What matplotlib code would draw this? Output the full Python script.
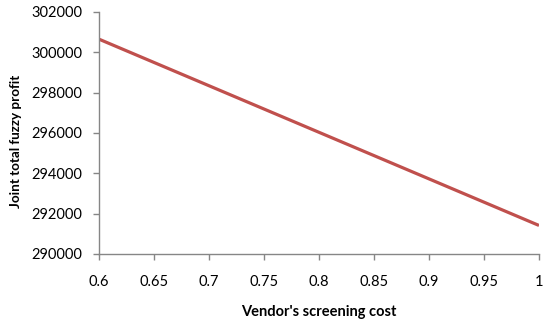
import matplotlib
matplotlib.use("Agg")
import matplotlib.pyplot as plt

cost = [0.6, 0.65, 0.7, 0.75, 0.8, 0.85, 0.9, 0.95, 1.0]
profit = [300650, 299495, 298340, 297185, 296030, 294875, 293720, 292565, 291410]
xticks = [0.6, 0.65, 0.7, 0.75, 0.8, 0.85, 0.9, 0.95, 1.0]
xticklabels = ["0.6", "0.65", "0.7", "0.75", "0.8", "0.85", "0.9", "0.95", "1"]
yticks = [290000, 292000, 294000, 296000, 298000, 300000, 302000]

plt.rcParams['font.family'] = ['Lato', 'DejaVu Sans']

fig = plt.figure(figsize=(5.5, 3.23), dpi=100)
ax = fig.add_axes([0.18, 0.214, 0.8, 0.749])
ax.plot(cost, profit, color="#C0504D", linewidth=2.3, solid_capstyle="butt")
ax.set_xlim(0.6, 1.0)
ax.set_ylim(290000, 302000)
ax.set_xticks(xticks)
ax.set_xticklabels(xticklabels)
ax.set_yticks(yticks)
ax.set_yticklabels([str(v) for v in yticks])
for s in ["top", "right"]:
    ax.spines[s].set_visible(False)
for s in ["left", "bottom"]:
    ax.spines[s].set_color("#868686")
    ax.spines[s].set_linewidth(1.0)
ax.tick_params(axis="both", colors="#868686", labelcolor="black", labelsize=10.5, length=4, width=1, direction="out")
ax.tick_params(axis="x", pad=11)
ax.tick_params(axis="y", pad=8)
ax.set_xlabel("Vendor's screening cost", fontsize=10.5, fontweight="bold")
ax.set_ylabel("Joint total fuzzy profit", fontsize=9.7, fontweight="bold")
ax.xaxis.set_label_coords(0.499, -0.212)
ax.yaxis.set_label_coords(-0.176, 0.467)
fig.savefig("out.png", dpi=100)
